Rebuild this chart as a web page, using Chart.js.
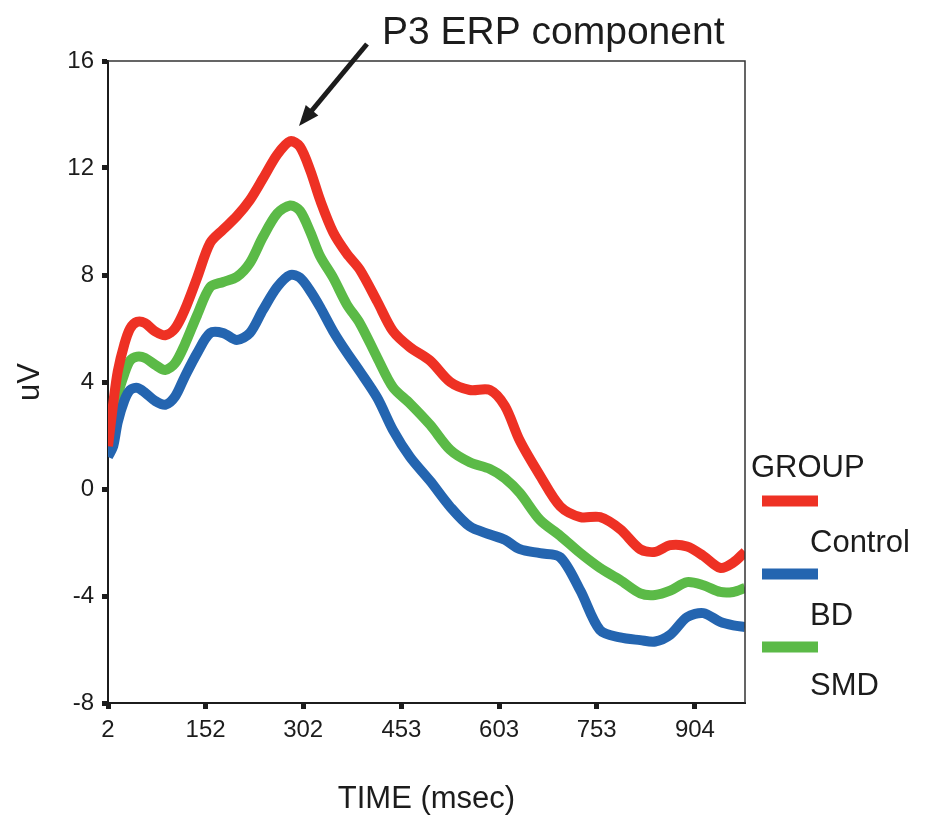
<!DOCTYPE html>
<html>
<head>
<meta charset="utf-8">
<script src="https://cdn.jsdelivr.net/npm/chart.js@4.4.1/dist/chart.umd.min.js"></script>
<style>
  html, body { margin: 0; padding: 0; background: #fff; }
  #wrap { width: 928px; height: 821px; position: relative; }
</style>
</head>
<body>
<div id="wrap"><canvas id="erp"></canvas></div>
<script>
// ── data ───────────────────────────────────────────────────────────────────
const timeMs = [2, 10, 17, 27, 36, 47, 59, 74, 90, 105, 120, 139, 159, 179, 200, 220,
  240, 262, 282, 297, 313, 328, 348, 369, 389, 416, 440, 466, 497, 528, 558, 589,
  612, 635, 666, 697, 728, 758, 789, 820, 843, 866, 892, 917, 943, 963, 981];

const control = [1.6, 3.2, 4.4, 5.4, 6.0, 6.25, 6.2, 5.9, 5.75, 6.0, 6.7, 7.9, 9.2, 9.7,
  10.2, 10.8, 11.6, 12.5, 13.0, 12.8, 11.9, 10.8, 9.6, 8.8, 8.2, 7.0, 5.9, 5.3, 4.8,
  4.0, 3.7, 3.7, 3.1, 1.8, 0.5, -0.65, -1.05, -1.05, -1.5, -2.25, -2.35, -2.1, -2.15,
  -2.5, -2.95, -2.75, -2.35];

const bd = [1.2, 1.6, 2.5, 3.3, 3.7, 3.78, 3.6, 3.3, 3.15, 3.45, 4.2, 5.08, 5.83, 5.83,
  5.57, 5.83, 6.69, 7.55, 8.0, 7.9, 7.4, 6.8, 5.9, 5.1, 4.4, 3.4, 2.2, 1.2, 0.3, -0.67,
  -1.4, -1.7, -1.9, -2.25, -2.4, -2.55, -3.8, -5.27, -5.55, -5.65, -5.7, -5.45, -4.79,
  -4.64, -4.97, -5.1, -5.16];

const smd = [1.4, 2.5, 3.5, 4.3, 4.8, 4.95, 4.9, 4.65, 4.45, 4.7, 5.4, 6.5, 7.55, 7.74,
  7.93, 8.45, 9.42, 10.3, 10.6, 10.4, 9.6, 8.7, 7.9, 6.9, 6.2, 4.9, 3.8, 3.2, 2.4, 1.46,
  1.0, 0.75, 0.4, -0.15, -1.16, -1.75, -2.4, -2.95, -3.4, -3.9, -3.96, -3.8, -3.48,
  -3.6, -3.85, -3.85, -3.7];

const groupNames = ['Control', 'BD', 'SMD'];
const xTicks = [2, 152, 302, 453, 603, 753, 904];
const yTicks = [-8, -4, 0, 4, 8, 12, 16];

const RED   = '#EE3124';
const BLUE  = '#2465B0';
const GREEN = '#5BBA47';
const INK   = '#1c1c1c';
const FONT  = "'Liberation Sans', Arial, sans-serif";

const pts = vals => vals.map((v, i) => ({ x: timeMs[i], y: v }));

// ── extras: box edges, legend, P3 annotation ──────────────────────────────
const extras = {
  id: 'extras',
  afterDraw(chart) {
    const { ctx, chartArea: a } = chart;
    ctx.save();

    // thin top/right frame
    ctx.strokeStyle = '#333';
    ctx.lineWidth = 1.5;
    ctx.beginPath();
    ctx.moveTo(a.left, a.top);
    ctx.lineTo(a.right, a.top);
    ctx.lineTo(a.right, a.bottom);
    ctx.stroke();

    // legend
    ctx.fillStyle = INK;
    ctx.font = `31px ${FONT}`;
    ctx.textBaseline = 'alphabetic';
    ctx.fillText('GROUP', 751, 477);
    const lineY = [501, 574, 647];
    const textY = [552, 625, 695];
    chart.data.datasets.forEach((ds, i) => {
      ctx.strokeStyle = ds.borderColor;
      ctx.lineWidth = 11;
      ctx.lineCap = 'butt';
      ctx.beginPath();
      ctx.moveTo(762, lineY[i]);
      ctx.lineTo(818, lineY[i]);
      ctx.stroke();
      ctx.fillStyle = INK;
      ctx.fillText(ds.label, 810, textY[i]);
    });

    // annotation
    ctx.font = `39px ${FONT}`;
    ctx.fillText('P3 ERP component', 382, 44);
    const x0 = 367, y0 = 44, x1 = 299, y1 = 126;
    const ang = Math.atan2(y1 - y0, x1 - x0);
    ctx.strokeStyle = INK;
    ctx.lineWidth = 5;
    ctx.beginPath();
    ctx.moveTo(x0, y0);
    ctx.lineTo(x1 - 14 * Math.cos(ang), y1 - 14 * Math.sin(ang));
    ctx.stroke();
    ctx.fillStyle = INK;
    ctx.beginPath();
    ctx.moveTo(x1, y1);
    ctx.lineTo(x1 - 22 * Math.cos(ang - 0.38), y1 - 22 * Math.sin(ang - 0.38));
    ctx.lineTo(x1 - 22 * Math.cos(ang + 0.38), y1 - 22 * Math.sin(ang + 0.38));
    ctx.closePath();
    ctx.fill();

    ctx.restore();
  },
};

new Chart(document.getElementById('erp'), {
  type: 'line',
  data: {
    datasets: [
      { label: groupNames[0], data: pts(control), borderColor: RED },
      { label: groupNames[1], data: pts(bd), borderColor: BLUE },
      { label: groupNames[2], data: pts(smd), borderColor: GREEN },
    ],
  },
  options: {
    responsive: true,
    maintainAspectRatio: false,
    animation: false,
    layout: { padding: { top: 61, right: 183, left: 0, bottom: 0 } },
    elements: {
      line: { borderWidth: 10, tension: 0.3, fill: false },
      point: { radius: 0, hoverRadius: 0 },
    },
    plugins: { legend: { display: false }, tooltip: { enabled: false } },
    scales: {
      x: {
        type: 'linear',
        min: 2, max: 981,
        afterBuildTicks: s => { s.ticks = xTicks.map(v => ({ value: v })); },
        afterFit: s => { s.height = 118; },
        border: { display: true, color: INK, width: 2 },
        grid: { drawOnChartArea: false, drawTicks: true, tickLength: 6, tickWidth: 5, color: INK },
        ticks: { color: INK, padding: 7, maxRotation: 0, autoSkip: false, font: { family: FONT, size: 24 } },
        title: {
          display: true, text: 'TIME (msec)', color: INK,
          font: { family: FONT, size: 31 }, padding: { top: 0, bottom: 3 },
        },
      },
      y: {
        min: -8, max: 16,
        afterBuildTicks: s => { s.ticks = yTicks.map(v => ({ value: v })); },
        afterFit: s => { s.width = 108; },
        border: { display: true, color: INK, width: 2 },
        grid: { drawOnChartArea: false, drawTicks: true, tickLength: 6, tickWidth: 5, color: INK },
        ticks: { color: INK, padding: 8, font: { family: FONT, size: 24 } },
        title: {
          display: true, text: 'uV', color: INK,
          font: { family: FONT, size: 31 }, padding: { top: 12, bottom: 0 },
        },
      },
    },
  },
  plugins: [extras],
});
</script>
</body>
</html>
